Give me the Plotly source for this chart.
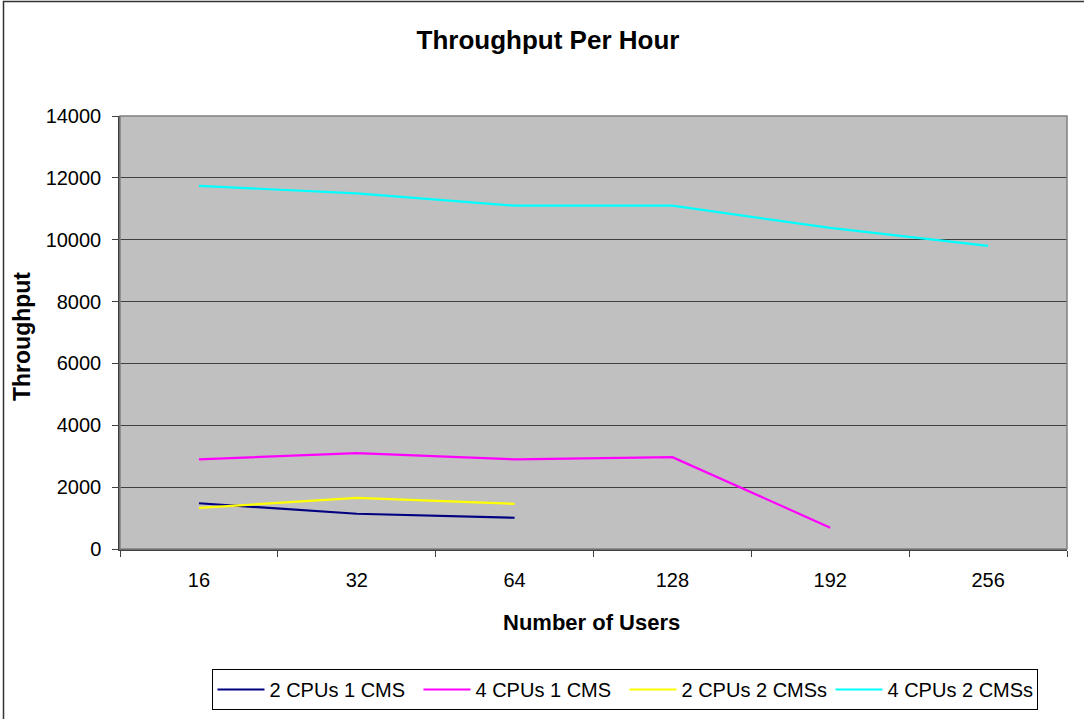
import plotly.graph_objects as go

users = ['16', '32', '64', '128', '192', '256']
cpu2_cms1 = [1480, 1140, 1010, None, None, None]
cpu4_cms1 = [2900, 3100, 2900, 2970, 690, None]
cpu2_cms2 = [1330, 1650, 1460, None, None, None]
cpu4_cms2 = [11740, 11500, 11100, 11100, 10380, 9800]
y_ticks = [0, 2000, 4000, 6000, 8000, 10000, 12000, 14000]
y_tick_text = ['0', '2000', '4000', '6000', '8000', '10000', '12000', '14000']

series = [
    ('2 CPUs 1 CMS', cpu2_cms1, '#000080'),
    ('4 CPUs 1 CMS', cpu4_cms1, '#FF00FF'),
    ('2 CPUs 2 CMSs', cpu2_cms2, '#FFFF00'),
    ('4 CPUs 2 CMSs', cpu4_cms2, '#00FFFF'),
]

FONT = 'Liberation Sans, Arial, sans-serif'
W, H = 1084, 719
L, R, T, B = 120, 17, 116, 170
PW = W - L - R
PH = H - T - B

fig = go.Figure()
for name, vals, col in series:
    fig.add_trace(go.Scatter(x=users, y=vals, name=name, mode='lines',
                             line=dict(color=col, width=2.2), connectgaps=False))

def px_to_paper_x(px):
    return (px - L) / PW

def px_to_paper_y(py):
    return (H - B - py) / PH

fig.update_layout(
    width=W, height=H,
    margin=dict(l=L, r=R, t=T, b=B, autoexpand=False),
    paper_bgcolor='white',
    plot_bgcolor='#C0C0C0',
    font=dict(family=FONT, color='black', size=20),
    title=dict(text='<b>Throughput Per Hour</b>', font=dict(size=26, family=FONT),
               x=548 / W, xref='container', xanchor='center',
               y=1 - 40 / H, yref='container', yanchor='middle'),
    xaxis=dict(type='category', categoryorder='array', categoryarray=users,
               range=[-0.5, len(users) - 0.5], automargin=False,
               showgrid=False, showline=True, linecolor='#404040', linewidth=1.5,
               ticks='outside', tickson='boundaries', ticklen=6, tickcolor='#404040',
               tickfont=dict(size=20), ticklabelstandoff=12, zeroline=False),
    yaxis=dict(range=[0, 14000], tickvals=y_ticks, ticktext=y_tick_text,
               automargin=False, showgrid=True,
               gridcolor='#404040', gridwidth=1.2,
               showline=True, linecolor='#404040', linewidth=1.5,
               ticks='outside', ticklen=6, tickcolor='#404040',
               tickfont=dict(size=20), ticklabelstandoff=7, zeroline=False),
    showlegend=True,
    legend=dict(orientation='h', x=px_to_paper_x(624.5), xanchor='center',
                y=px_to_paper_y(669), yanchor='top',
                bordercolor='black', borderwidth=1, bgcolor='white',
                font=dict(size=20, family=FONT),
                entrywidth=144, entrywidthmode='pixels', itemwidth=47,
                tracegroupgap=0),
    annotations=[
        dict(text='<b>Number of Users</b>', xref='paper', yref='paper',
             x=px_to_paper_x(591), y=px_to_paper_y(622), xanchor='center', yanchor='middle',
             showarrow=False, font=dict(size=22, family=FONT)),
        dict(text='<b>Throughput</b>', xref='paper', yref='paper',
             x=px_to_paper_x(22), y=px_to_paper_y(337), xanchor='center', yanchor='middle',
             textangle=-90, showarrow=False, font=dict(size=23, family=FONT)),
    ],
    shapes=[
        dict(type='rect', xref='paper', yref='paper', x0=0, x1=1, y0=0, y1=1,
             line=dict(color='#808080', width=1.5), fillcolor='rgba(0,0,0,0)', layer='above'),
        dict(type='rect', xref='paper', yref='paper',
             x0=px_to_paper_x(3.5), x1=px_to_paper_x(1095),
             y0=px_to_paper_y(730), y1=px_to_paper_y(1.5),
             line=dict(color='#333333', width=1.5), fillcolor='rgba(0,0,0,0)', layer='above'),
    ],
)

fig.write_html('out.html')
